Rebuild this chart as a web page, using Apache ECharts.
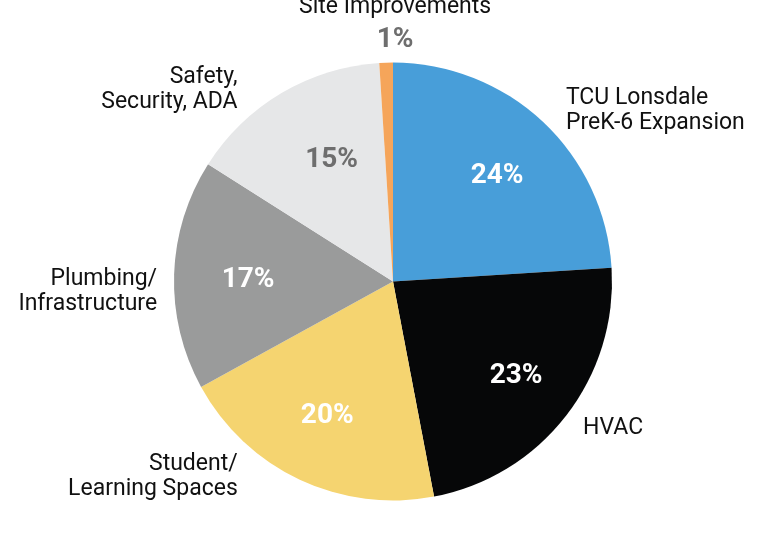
<!DOCTYPE html>
<html>
<head>
<meta charset="utf-8">
<script src="https://cdn.jsdelivr.net/npm/echarts@6/dist/echarts.min.js"></script>
<style>
html,body{margin:0;padding:0;background:#fff;}
#chart{width:780px;height:535px;}
</style>
</head>
<body>
<div id="chart"></div>
<script>
// Data
const categories = ['TCU Lonsdale\nPreK-6 Expansion', 'HVAC', 'Student/\nLearning Spaces', 'Plumbing/\nInfrastructure', 'Safety,\nSecurity, ADA', 'Site Improvements'];
const shares = [24, 23, 20, 17, 15, 1];

// Styles (kept separate from data)
const sliceColors = ['#489ed9', '#060708', '#f5d470', '#9a9b9b', '#e6e7e8', '#f5a55a'];
const pctColors = ['#ffffff', '#ffffff', '#ffffff', '#ffffff', '#6e6e6e', '#6e6e6e'];
// label nudges relative to default anchors [dx, dy]
const labelNudge = [[23, -11], [17, 13], [-62, -3], [-17, 17], [-44, -3], [9, -39]];
const pctNudge = [[0, 5], [3, 1], [-1, -3], [7, 3], [16, 9], [0, 0]];

const chart = echarts.init(document.getElementById('chart'), null, {renderer: 'canvas'});

const mainData = categories.map((name, i) => {
  const item = {name: name, value: shares[i], itemStyle: {color: sliceColors[i]}};
  if (i === categories.length - 1) {
    item.label = {
      formatter: '{n|{b}}\n{p|{c}%}',
      align: 'center'
    };
  }
  return item;
});

const pctData = categories.map((name, i) => ({
  name: name,
  value: shares[i],
  label: {show: i !== categories.length - 1, color: pctColors[i]}
}));

chart.setOption({
  animation: false,
  series: [
    {
      type: 'pie',
      center: [393, 281.5],
      radius: [0, 219],
      startAngle: 90,
      clockwise: true,
      avoidLabelOverlap: false,
      silent: true,
      data: mainData,
      label: {
        show: true,
        position: 'outside',
        fontFamily: 'Roboto',
        fontSize: 23,
        lineHeight: 25,
        color: '#111111',
        distanceToLabelLine: 0,
        rich: {
          n: {fontFamily: 'Roboto', fontSize: 23, lineHeight: 32, color: '#111111', align: 'center'},
          p: {fontFamily: 'Roboto', fontSize: 28, fontWeight: 'bold', lineHeight: 32, color: '#6e6e6e', align: 'center'}
        }
      },
      labelLine: {show: false, length: 0, length2: 0},
      labelLayout: function (params) {
        const n = labelNudge[params.dataIndex];
        const out = {dx: n[0], dy: n[1]};
        if (params.dataIndex === categories.length - 1) out.align = 'center';
        return out;
      }
    },
    {
      type: 'pie',
      center: [393, 281.5],
      radius: [79, 219],
      startAngle: 90,
      clockwise: true,
      silent: true,
      avoidLabelOverlap: false,
      itemStyle: {color: 'rgba(0,0,0,0)'},
      data: pctData,
      label: {
        position: 'inside',
        formatter: '{c}%',
        fontFamily: 'Roboto',
        fontSize: 28,
        fontWeight: 'bold'
      },
      labelLine: {show: false},
      labelLayout: function (params) {
        const n = pctNudge[params.dataIndex];
        return {dx: n[0], dy: n[1]};
      }
    }
  ]
});
</script>
</body>
</html>
